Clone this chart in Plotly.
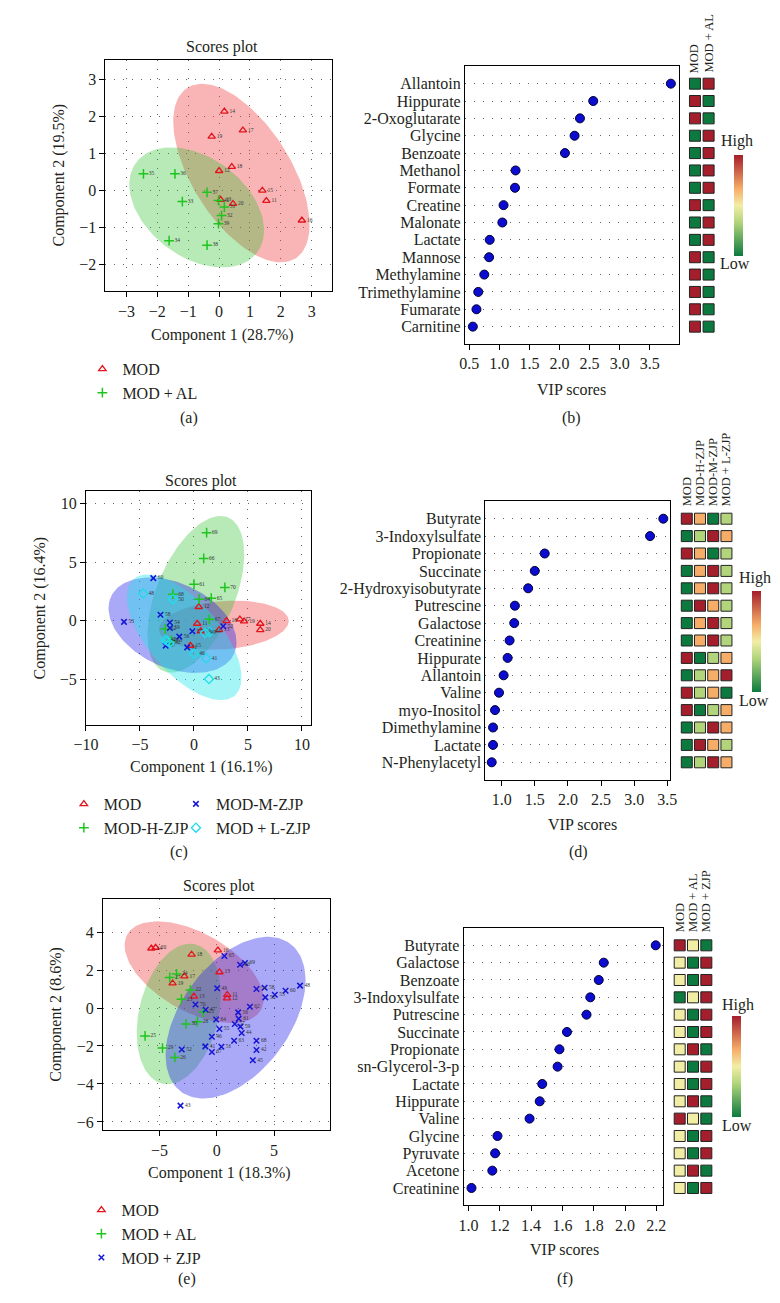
import numpy as np
import plotly.graph_objects as go

W, H = 780, 1303
FONT = "Liberation Serif"
TXT = "#231f20"

# ---------------- panel (a): scores ----------------
a_mod_lab = [14, 17, 19, 18, 12, 15, 11, 16, 20, 13]
a_mod_x = [0.17, 0.77, -0.24, 0.41, 0.00, 1.40, 1.53, 2.68, 0.45, 0.05]
a_mod_y = [2.14, 1.63, 1.46, 0.64, 0.53, 0.00, -0.28, -0.81, -0.36, -0.25]
a_al_lab = [35, 36, 37, 33, 40, 31, 32, 39, 34, 38]
a_al_x = [-2.45, -1.43, -0.39, -1.19, -0.02, 0.17, 0.08, -0.02, -1.62, -0.39]
a_al_y = [0.45, 0.45, -0.05, -0.30, -0.27, -0.45, -0.68, -0.90, -1.36, -1.48]

# ---------------- panel (c): scores ----------------
c_mod_lab = [12, 11, 18, 17, 19, 14, 20, 13, 15, 16]
c_mod_x = [0.45, 0.30, 3.01, 4.25, 4.64, 6.14, 6.14, 2.32, -0.33, 0.63]
c_mod_y = [1.17, -0.26, -0.03, 0.11, -0.06, -0.26, -0.80, -0.80, -2.14, -0.90]
c_h_lab = [69, 66, 61, 70, 68, 64, 65, 67, 62, 63]
c_h_x = [1.17, 0.90, 0.00, 2.86, -1.96, 0.48, 1.60, 1.42, -2.65, -2.11]
c_h_y = [7.51, 5.31, 3.11, 2.83, 2.26, 1.83, 1.91, 0.11, -0.71, -1.71]
c_m_lab = [60, 58, 53, 54, 59, 56, 55, 52, 57, 51]
c_m_x = [-3.77, -3.10, -6.48, -2.23, -2.23, -1.36, -0.15, 2.71, -2.62, -0.63]
c_m_y = [3.63, 0.49, -0.11, -0.17, -0.63, -1.37, -0.91, -0.49, -2.14, -2.29]
c_l_lab = [48, 50, 46, 41, 43, 49, 44, 45, 47, 42]
c_l_x = [-4.70, -1.96, 0.00, 1.14, 1.39, 1.02, 1.45, -2.65, -2.47, -2.26]
c_l_y = [2.31, 1.83, -2.83, -3.23, -5.00, -1.06, -0.97, -1.66, -1.74, -1.91]

# ---------------- panel (e): scores ----------------
e_mod_lab = [20, 14, 16, 18, 15, 17, 19, 13, 11, 12]
e_mod_x = [-5.34, -5.71, 0.09, -2.20, 0.23, -2.83, -3.86, -2.00, 0.91, 0.89]
e_mod_y = [3.18, 3.14, 3.04, 2.82, 1.89, 1.67, 1.30, 0.61, 0.70, 0.51]
e_al_lab = [24, 27, 22, 23, 21, 28, 30, 25, 29, 26]
e_al_x = [-3.51, -4.11, -2.31, -3.09, -1.17, -1.69, -2.69, -6.26, -4.74, -3.66]
e_al_y = [1.79, 1.61, 0.95, 0.46, -0.21, -0.72, -0.84, -1.47, -2.11, -2.60]
e_zjp_lab = [65, 66, 69, 49, 70, 47, 64, 58, 54, 50, 53, 60, 48, 62, 56,
             61, 57, 59, 44, 55, 46, 63, 68, 41, 51, 52, 67, 42, 45, 43]
e_zjp_x = [0.66, 2.03, 2.46, 0.03, -1.86, -0.97, -0.06, 4.17, 3.46, 4.23, 5.06, 6.00, 7.26, 2.89, 1.86,
           1.91, 1.57, 2.06, 2.17, 0.23, -0.43, 1.51, 3.46, -1.00, 0.40, -3.06, -0.43, 3.46, 3.14, -3.17]
e_zjp_y = [2.74, 2.28, 2.37, 1.04, 0.18, -0.09, -0.61, 1.07, 1.00, 0.56, 0.70, 0.91, 1.18, 0.07, -0.23,
           -0.56, -0.84, -0.98, -1.32, -1.11, -1.51, -1.72, -1.72, -2.02, -2.04, -2.19, -2.32, -2.21, -2.75, -5.14]

# ---------------- panel (b): VIP ----------------
b_names = ["Allantoin", "Hippurate", "2-Oxoglutarate", "Glycine", "Benzoate", "Methanol", "Formate",
           "Creatine", "Malonate", "Lactate", "Mannose", "Methylamine", "Trimethylamine", "Fumarate", "Carnitine"]
b_vip = [3.85, 2.56, 2.34, 2.25, 2.09, 1.27, 1.26, 1.07, 1.05, 0.84, 0.83, 0.75, 0.65, 0.62, 0.56]
b_groups = ["MOD", "MOD + AL"]
b_level = [[0, 1], [1, 0], [1, 0], [0, 1], [0, 1], [0, 1], [0, 1], [1, 0], [0, 1], [0, 1],
           [1, 0], [1, 0], [1, 0], [1, 0], [1, 0]]

# ---------------- panel (d): VIP ----------------
d_names = ["Butyrate", "3-Indoxylsulfate", "Propionate", "Succinate", "2-Hydroxyisobutyrate", "Putrescine",
           "Galactose", "Creatinine", "Hippurate", "Allantoin", "Valine", "myo-Inositol", "Dimethylamine",
           "Lactate", "N-Phenylacetyl"]
d_vip = [3.44, 3.24, 1.65, 1.50, 1.40, 1.20, 1.19, 1.12, 1.09, 1.03, 0.96, 0.90, 0.87, 0.87, 0.85]
d_groups = ["MOD", "MOD-H-ZJP", "MOD-M-ZJP", "MOD + L-ZJP"]
d_level = [[3, 2, 0, 1], [0, 1, 3, 2], [3, 2, 0, 1], [0, 2, 3, 1], [0, 2, 3, 1], [0, 3, 2, 1], [0, 2, 3, 1],
           [0, 2, 3, 1], [3, 0, 1, 2], [0, 1, 2, 3], [3, 1, 2, 0], [3, 0, 1, 2], [0, 1, 3, 2], [0, 3, 2, 1],
           [0, 1, 3, 2]]

# ---------------- panel (f): VIP ----------------
f_names = ["Butyrate", "Galactose", "Benzoate", "3-Indoxylsulfate", "Putrescine", "Succinate", "Propionate",
           "sn-Glycerol-3-p", "Lactate", "Hippurate", "Valine", "Glycine", "Pyruvate", "Acetone", "Creatinine"]
f_vip = [2.196, 1.864, 1.832, 1.778, 1.754, 1.629, 1.581, 1.569, 1.471, 1.455, 1.39, 1.185, 1.17, 1.152, 1.019]
f_groups = ["MOD", "MOD + AL", "MOD + ZJP"]
f_level = [[2, 1, 0], [1, 0, 2], [1, 0, 2], [0, 1, 2], [1, 0, 2], [1, 0, 2], [1, 2, 0], [1, 0, 2],
           [1, 0, 2], [1, 2, 0], [2, 1, 0], [1, 0, 2], [1, 0, 2], [1, 2, 0], [1, 0, 2]]

# ---------------- styles ----------------
HEAT_CS = [[0.0, "#0c7a3e"], [0.333, "#b2d57c"], [0.5, "#f2eda5"], [0.667, "#f6ad68"], [1.0, "#a41e2c"]]
GROUP_STYLE = {
    "red": dict(symbol="triangle-up-open", size=6.5, lw=1.3, color="#e3141e", fill="rgba(240,60,60,0.38)"),
    "green": dict(symbol="cross-thin-open", size=7, lw=1.5, color="#1fc41f", fill="rgba(40,190,40,0.33)"),
    "blue": dict(symbol="x-thin-open", size=5.5, lw=1.5, color="#1515d6", fill="rgba(40,40,235,0.40)"),
    "cyan": dict(symbol="diamond-open", size=7, lw=1.3, color="#1fdcec", fill="rgba(30,230,235,0.40)"),
}


def fx(p):
    return p / W


def fy(p):
    return 1 - p / H


fig = go.Figure()


def ellipse(x, y, n=140, scale=2.4477):
    pts = np.column_stack([x, y])
    mu = pts.mean(axis=0)
    cov = np.cov(pts, rowvar=False)
    vals, vecs = np.linalg.eigh(cov)
    t = np.linspace(0, 2 * np.pi, n)
    circ = np.column_stack([np.cos(t), np.sin(t)]) * np.sqrt(vals) * scale
    e = circ @ vecs.T + mu
    return e[:, 0], e[:, 1]


def scores_panel(n, groups, legend):
    xa = "x" if n == 1 else f"x{n}"
    ya = "y" if n == 1 else f"y{n}"
    for name, x, y, lab, style, lg in groups:
        ex, ey = ellipse(x, y)
        st = GROUP_STYLE[style]
        fig.add_trace(go.Scatter(x=ex, y=ey, mode="lines", fill="toself", fillcolor=st["fill"],
                                 line=dict(width=0), showlegend=False, hoverinfo="skip",
                                 xaxis=xa, yaxis=ya))
    for name, x, y, lab, style, lg in groups:
        st = GROUP_STYLE[style]
        fig.add_trace(go.Scatter(x=x, y=y, mode="markers+text", name=name,
                                 text=[str(v) for v in lab], textposition="middle right",
                                 textfont=dict(family=FONT, size=5.5, color="#333"),
                                 marker=dict(symbol=st["symbol"], size=st["size"], color=st["color"],
                                             line=dict(color=st["color"], width=st["lw"])),
                                 legend=lg, showlegend=True, xaxis=xa, yaxis=ya))


scores_panel(1, [("MOD", a_mod_x, a_mod_y, a_mod_lab, "red", "legend"),
                 ("MOD + AL", a_al_x, a_al_y, a_al_lab, "green", "legend")], "legend")

scores_panel(4, [("MOD", c_mod_x, c_mod_y, c_mod_lab, "red", "legend2"),
                 ("MOD-H-ZJP", c_h_x, c_h_y, c_h_lab, "green", "legend2"),
                 ("MOD-M-ZJP", c_m_x, c_m_y, c_m_lab, "blue", "legend3"),
                 ("MOD + L-ZJP", c_l_x, c_l_y, c_l_lab, "cyan", "legend3")], "legend2")

scores_panel(7, [("MOD", e_mod_x, e_mod_y, e_mod_lab, "red", "legend4"),
                 ("MOD + AL", e_al_x, e_al_y, e_al_lab, "green", "legend4"),
                 ("MOD + ZJP", e_zjp_x, e_zjp_y, e_zjp_lab, "blue", "legend4")], "legend4")


def vip_panel(n, names, vip, levels, cb_x, cb_top):
    fig.add_trace(go.Scatter(x=vip, y=list(range(len(names))), mode="markers",
                             marker=dict(size=9, color="#0c0cd0", line=dict(color="#000033", width=1)),
                             showlegend=False, xaxis=f"x{n}", yaxis=f"y{n}"))
    ng = len(levels[0])
    hx, hy, hc = [], [], []
    for i, row in enumerate(levels):
        for j, v in enumerate(row):
            hx.append(j)
            hy.append(i)
            hc.append(v / (ng - 1))
    fig.add_trace(go.Scatter(x=hx, y=hy, mode="markers", showlegend=False,
                             marker=dict(symbol="square", size=11, color=hc, colorscale=HEAT_CS,
                                         cmin=0, cmax=1, line=dict(color="#222", width=1),
                                         showscale=True,
                                         colorbar=dict(x=fx(cb_x), xanchor="left", y=fy(cb_top),
                                                       yanchor="top", len=101, lenmode="pixels",
                                                       thickness=9, thicknessmode="pixels",
                                                       outlinewidth=0, showticklabels=False, ticks="",
                                                       xpad=0, ypad=0)),
                             xaxis=f"x{n + 1}", yaxis=f"y{n + 1}"))


vip_panel(2, b_names, b_vip, b_level, 731.7, 146.7)
vip_panel(5, d_names, d_vip, d_level, 750.7, 582.7)
vip_panel(8, f_names, f_vip, f_level, 729.3, 1008.3)

# ---------------- axes ----------------
base = dict(showline=True, mirror=True, linecolor="black", linewidth=1.2,
            tickcolor="black", tickwidth=1, zeroline=False,
            tickfont=dict(family=FONT, size=16, color=TXT))
grid = dict(showgrid=True, gridcolor="#666", griddash="1px,8px", gridwidth=1)

layout_axes = {}


def scat_axes(n, xp, yp, xr, yr, xt, yt):
    kx = "xaxis" if n == 1 else f"xaxis{n}"
    ky = "yaxis" if n == 1 else f"yaxis{n}"
    ax_ref = "x" if n == 1 else f"x{n}"
    ay_ref = "y" if n == 1 else f"y{n}"
    layout_axes[kx] = dict(base, **grid, domain=[fx(xp[0]), fx(xp[1])], range=xr, tickvals=xt,
                           ticks="outside", ticklen=5, anchor=ay_ref)
    layout_axes[ky] = dict(base, **grid, domain=[fy(yp[1]), fy(yp[0])], range=yr, tickvals=yt,
                           ticks="outside", ticklen=5, anchor=ax_ref)


scat_axes(1, (86.7, 319.0), (51.7, 283.3), [-3.68, 3.65], [-2.73, 3.54],
          [-3, -2, -1, 0, 1, 2, 3], [-2, -1, 0, 1, 2, 3])
scat_axes(4, (66.7, 298.0), (483.3, 716.7), [-10.0, 10.87], [-8.9, 11.05],
          [-10, -5, 0, 5, 10], [-5, 0, 5, 10])
scat_axes(7, (84.3, 316.7), (891.0, 1122.3), [-9.92, 9.84], [-6.44, 5.74],
          [-5, 0, 5], [-6, -4, -2, 0, 2, 4])


def vip_axes(n, xp, yp, xr, xt, names, hx):
    layout_axes[f"xaxis{n}"] = dict(base, domain=[fx(xp[0]), fx(xp[1])], range=xr, tickvals=xt,
                                    ticktext=[f"{v:.1f}" for v in xt], ticks="outside", ticklen=5,
                                    showgrid=False, anchor=f"y{n}")
    layout_axes[f"yaxis{n}"] = dict(base, **grid, domain=[fy(yp[1]), fy(yp[0])], range=[15, -1],
                                    tickvals=list(range(len(names))), ticktext=names, ticks="",
                                    anchor=f"x{n}")
    layout_axes[f"xaxis{n + 1}"] = dict(domain=[fx(hx[0]), fx(hx[1])], range=hx[2], visible=False,
                                        anchor=f"y{n + 1}")
    layout_axes[f"yaxis{n + 1}"] = dict(domain=[fy(yp[1]), fy(yp[0])], range=[15, -1], visible=False,
                                        anchor=f"x{n + 1}")


vip_axes(2, (455.7, 675.0), (58.3, 336.0), [0.43, 3.98], [0.5, 1.0, 1.5, 2.0, 2.5, 3.0, 3.5],
         b_names, (684.7, 712.7, [-0.5, 1.5]))
vip_axes(5, (476.7, 666.0), (493.3, 771.7), [0.756, 3.54], [1.0, 1.5, 2.0, 2.5, 3.0, 3.5],
         d_names, (676.5, 730.8, [-0.5, 3.5]))
vip_axes(8, (454.3, 659.3), (920.0, 1197.3), [0.969, 2.245], [1.0, 1.2, 1.4, 1.6, 1.8, 2.0, 2.2],
         f_names, (669.2, 710.2, [-0.5, 2.5]))


# ---------------- annotations ----------------
def ann(text, x, y, size=16, angle=0, xanchor="center", yanchor="middle"):
    fig.add_annotation(text=text, x=fx(x), y=fy(y), xref="paper", yref="paper", showarrow=False,
                       font=dict(family=FONT, size=size, color=TXT), textangle=angle,
                       xanchor=xanchor, yanchor=yanchor)


# titles
ann("Scores plot", 206.0, 39.0)
ann("Scores plot", 184.3, 473.3)
ann("Scores plot", 203.3, 878.3)
# axis titles
ann("Component 1 (28.7%)", 206.7, 326.7)
ann("Component 2 (19.5%)", 38.0, 167.5, angle=-90)
ann("Component 1 (16.1%)", 185.0, 759.0)
ann("Component 2 (16.4%)", 20.0, 600.0, angle=-90)
ann("Component 1 (18.3%)", 203.3, 1165.0)
ann("Component 2 (8.6%)", 35.7, 1006.0, angle=-90)
ann("VIP scores", 565.0, 381.0)
ann("VIP scores", 576.7, 816.7)
ann("VIP scores", 558.3, 1241.7)
# panel letters
ann("(a)", 172.0, 410.0)
ann("(b)", 565.0, 410.0)
ann("(c)", 161.7, 844.3)
ann("(d)", 572.0, 844.3)
ann("(e)", 170.0, 1270.7)
ann("(f)", 558.0, 1271.0)
# colour key
ann("High", 735.0, 132.7)
ann("Low", 733.3, 256.0)
ann("High", 753.3, 570.0)
ann("Low", 752.7, 692.3)
ann("High", 736.0, 997.3)
ann("Low", 735.0, 1117.3)


# heat-map column headers
def headers(groups, xref, ybottom):
    for j, g in enumerate(groups):
        fig.add_annotation(text=g, x=j, xref=xref, y=fy(ybottom), yref="paper", showarrow=False,
                           textangle=-90, xanchor="center", yanchor="bottom",
                           font=dict(family=FONT, size=12.5, color=TXT))


headers(b_groups, "x3", 67.0)
headers(d_groups, "x6", 500.0)
headers(f_groups, "x9", 926.0)

leg = dict(xanchor="left", yanchor="top", bgcolor="rgba(0,0,0,0)", font=dict(family=FONT, size=16, color=TXT),
           itemwidth=30, tracegroupgap=0)
fig.update_layout(
    width=W, height=H, margin=dict(l=0, r=0, t=0, b=0),
    paper_bgcolor="white", plot_bgcolor="white",
    font=dict(family=FONT, size=16, color=TXT),
    legend=dict(leg, x=fx(63), y=fy(344)),
    legend2=dict(leg, x=fx(44), y=fy(779)),
    legend3=dict(leg, x=fx(159), y=fy(779)),
    legend4=dict(leg, x=fx(62), y=fy(1185)),
    **layout_axes,
)

fig.write_html("out.html")
